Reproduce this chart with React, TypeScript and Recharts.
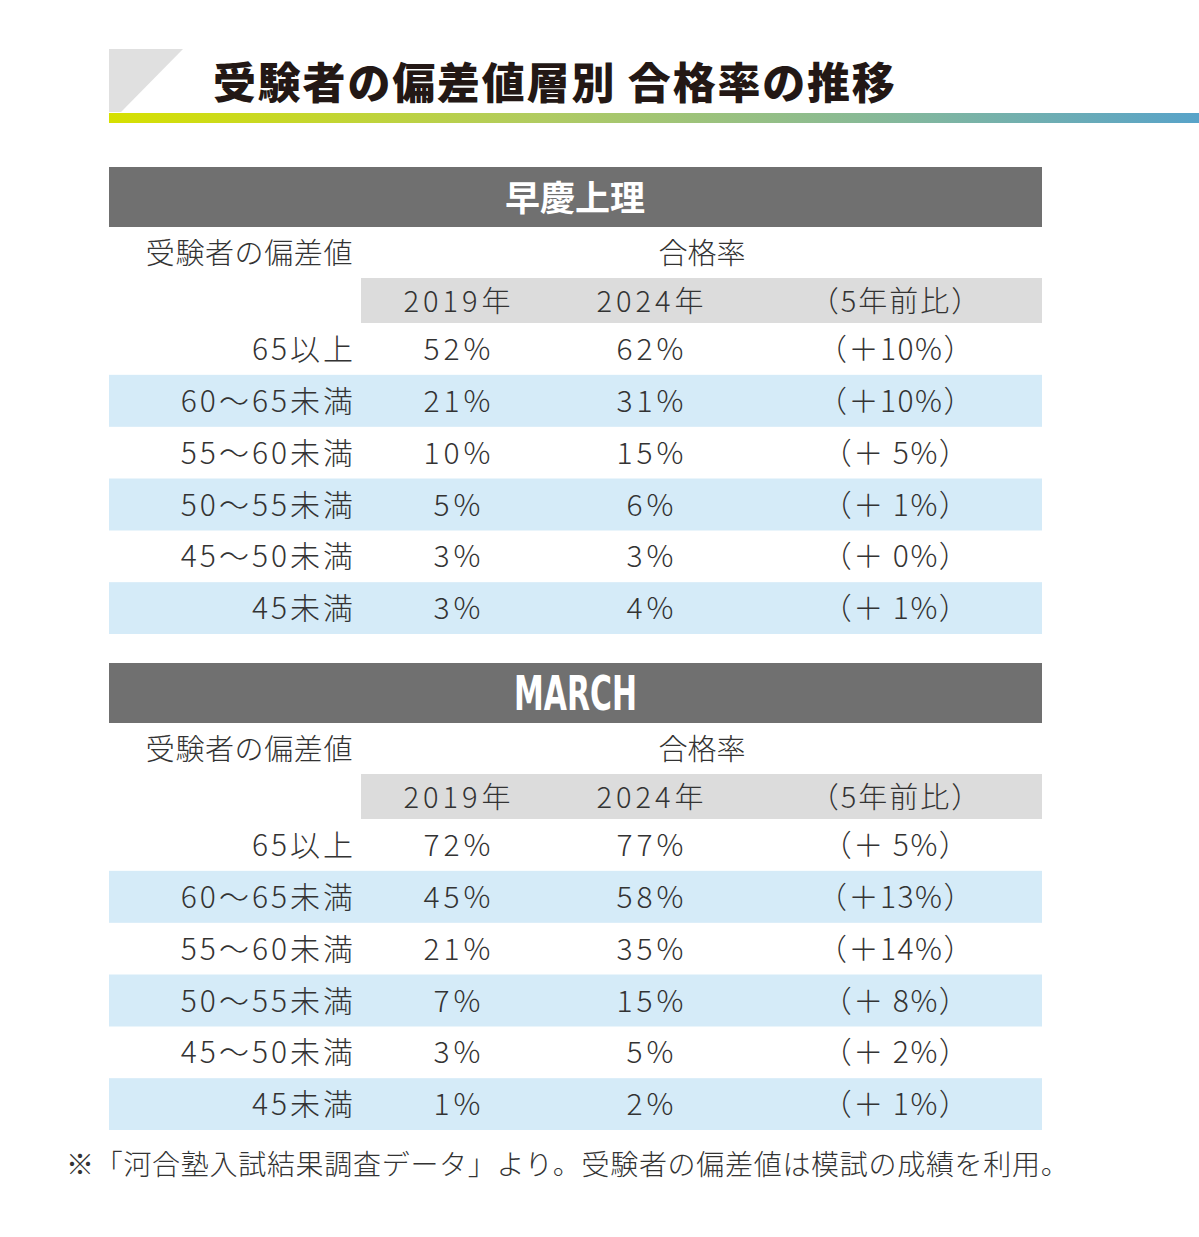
import { BarChart, Bar, XAxis, YAxis } from "recharts";

const bands = ["65以上", "60～65未満", "55～60未満", "50～55未満", "45～50未満", "45未満"];
const sokeiRate2019 = [52, 21, 10, 5, 3, 3];
const sokeiRate2024 = [62, 31, 15, 6, 3, 4];
const sokeiDiff = [10, 10, 5, 1, 0, 1];
const marchRate2019 = [72, 45, 21, 7, 3, 1];
const marchRate2024 = [77, 58, 35, 15, 5, 2];
const marchDiff = [5, 13, 14, 8, 2, 1];
const columnLabels = ["2019年", "2024年", "（5年前比）"];

const FONT = '"Noto Sans CJK JP", "Noto Sans", sans-serif';
const TEXT = "#333333";
const STRIPE = "#d5ebf8";

// column centres, relative to the table's left edge (x = 109)
const COL_LABEL_END = 244;
const COL_2019 = 348;
const COL_2024 = 541;
const COL_DIFF = 786;

const fmtDiff = (d: number) => (d < 10 ? `（＋ ${d}%）` : `（＋${d}%）`);

const buildRows = (r19: number[], r24: number[], diff: number[]) =>
  bands.map((band, i) => ({
    band,
    row: 1,
    v2019: `${r19[i]}%`,
    v2024: `${r24[i]}%`,
    diff: fmtDiff(diff[i]),
    shaded: i % 2 === 1,
  }));

const cellText = { fontFamily: FONT, fontSize: 30, fill: TEXT, fontWeight: 300, dominantBaseline: "central" } as any;

const RowShape = (props: any) => {
  const { x, y, width, height, payload } = props;
  const cy = y + height / 2 - 2;
  return (
    <g>
      <rect x={x} y={y} width={width} height={height} fill={payload.shaded ? STRIPE : "transparent"} />
      <text {...cellText} letterSpacing={3} x={x + COL_LABEL_END + 3} y={cy} textAnchor="end">{payload.band}</text>
      <text {...cellText} letterSpacing={4} x={x + COL_2019 + 2} y={cy} textAnchor="middle">{payload.v2019}</text>
      <text {...cellText} letterSpacing={4} x={x + COL_2024 + 2} y={cy} textAnchor="middle">{payload.v2024}</text>
      <text {...cellText} letterSpacing={1.5} x={x + COL_DIFF + 1} y={cy} textAnchor="middle">{payload.diff}</text>
    </g>
  );
};

function RateTable({ rows, top }: { rows: any[]; top: number }) {
  return (
    <div style={{ position: "absolute", left: 109, top, width: 933, height: 311 }}>
      <BarChart
        layout="vertical"
        width={933}
        height={311}
        data={rows}
        margin={{ top: 0, right: 0, bottom: 0, left: 0 }}
        barCategoryGap={0}
      >
        <XAxis type="number" domain={[0, 1]} hide />
        <YAxis type="category" dataKey="band" hide />
        <Bar dataKey="row" shape={RowShape} isAnimationActive={false} />
      </BarChart>
    </div>
  );
}

function SectionHeader({ title, top, latin }: { title: string; top: number; latin?: boolean }) {
  const t = { ...cellText, fontSize: 29 };
  return (
    <g>
      <rect x={109} y={top} width={933} height={60} fill="#707070" />
      {latin ? (
        <text
          x={514}
          y={top + 30}
          dominantBaseline="central"
          fill="#ffffff"
          fontWeight="bold"
          fontSize={48}
          fontFamily='"DejaVu Sans", sans-serif'
          textLength={123}
          lengthAdjust="spacingAndGlyphs"
        >
          {title}
        </text>
      ) : (
        <text
          x={575}
          y={top + 28}
          textAnchor="middle"
          dominantBaseline="central"
          fill="#ffffff"
          fontWeight="bold"
          fontSize={35}
          fontFamily={FONT}
        >
          {title}
        </text>
      )}
      <text {...t} letterSpacing={0.6} x={353} y={top + 84} textAnchor="end">受験者の偏差値</text>
      <text {...t} x={702} y={top + 84} textAnchor="middle">合格率</text>
      <rect x={361} y={top + 111} width={681} height={45} fill="#dcdcdc" />
      <text {...t} letterSpacing={4} x={109 + COL_2019 + 2} y={top + 132} textAnchor="middle">{columnLabels[0]}</text>
      <text {...t} letterSpacing={4} x={109 + COL_2024 + 2} y={top + 132} textAnchor="middle">{columnLabels[1]}</text>
      <text {...t} letterSpacing={2} x={109 + COL_DIFF + 1} y={top + 132} textAnchor="middle">{columnLabels[2]}</text>
    </g>
  );
}

export default function App() {
  const sokeiRows = buildRows(sokeiRate2019, sokeiRate2024, sokeiDiff);
  const marchRows = buildRows(marchRate2019, marchRate2024, marchDiff);
  return (
    <div style={{ position: "absolute", left: 0, top: 0, width: 1199, height: 1237, background: "#ffffff", overflow: "hidden" }}>
      <svg width={1199} height={1237} style={{ position: "absolute", left: 0, top: 0 }}>
        <defs>
          <linearGradient id="rule" x1="0" x2="1" y1="0" y2="0">
            <stop offset="0%" stopColor="#d6e000" />
            <stop offset="40%" stopColor="#b0cb62" />
            <stop offset="75%" stopColor="#80b6a0" />
            <stop offset="100%" stopColor="#58a3c9" />
          </linearGradient>
        </defs>
        <polygon points="109,49 183,49 121,112 109,112" fill="#e0e0e0" />
        <rect x={109} y={113} width={1090} height={10} fill="url(#rule)" />
        <text
          x={213}
          y={80}
          dominantBaseline="central"
          fontFamily={FONT}
          fontWeight={900}
          fontSize={43}
          letterSpacing={1.8}
          fill="#231815"
        >
          受験者の偏差値層別 合格率の推移
        </text>
        <SectionHeader title="早慶上理" top={167} />
        <SectionHeader title="MARCH" top={663} latin />
        <text
          x={66}
          y={1163}
          dominantBaseline="central"
          fontFamily={FONT}
          fontWeight={300}
          fontSize={28}
          letterSpacing={0.7}
          fill={TEXT}
        >
          ※「河合塾入試結果調査データ」より。受験者の偏差値は模試の成績を利用。
        </text>
      </svg>
      <RateTable rows={sokeiRows} top={323} />
      <RateTable rows={marchRows} top={819} />
    </div>
  );
}
